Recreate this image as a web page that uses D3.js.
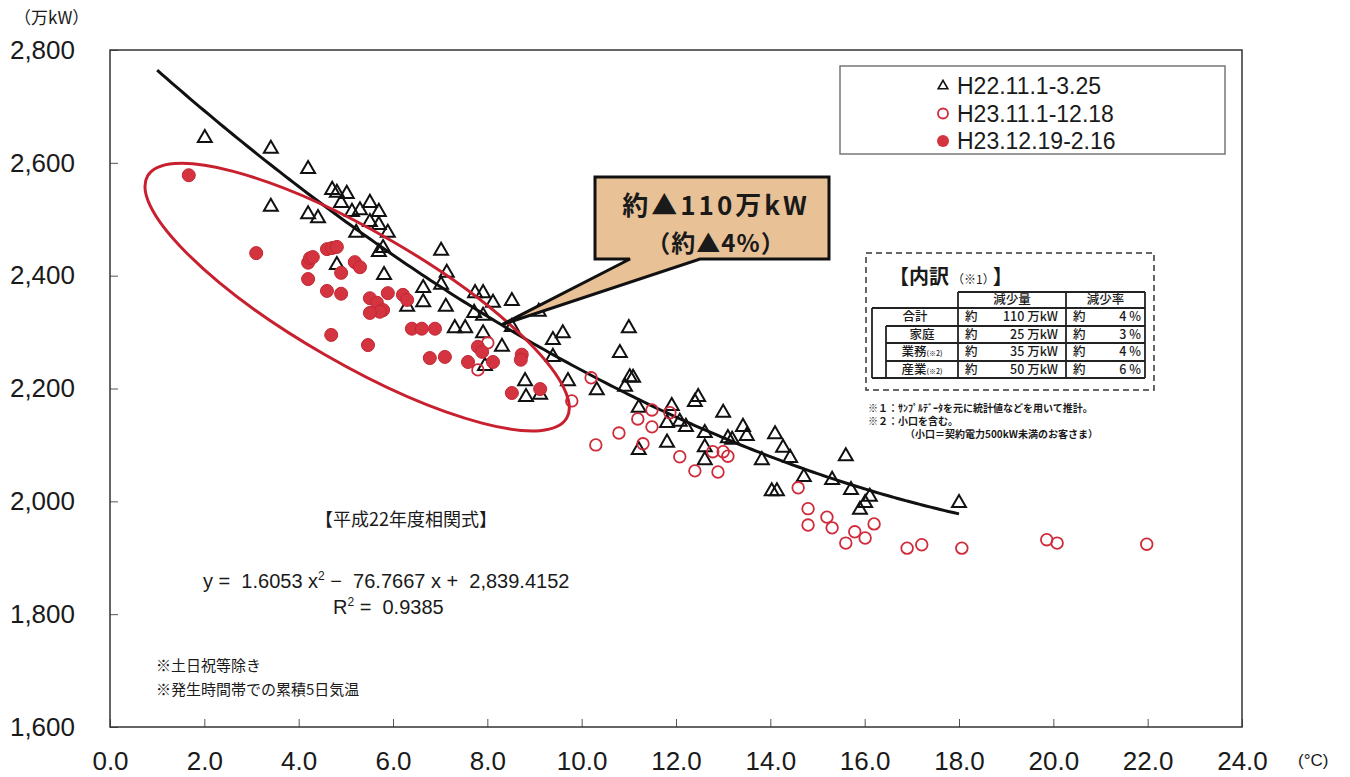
<!DOCTYPE html>
<html lang="ja">
  <head>
    <meta charset="utf-8" />
    <script src="https://d3js.org/d3.v7.min.js"></script>
    <style>
      body { margin: 0; background: #fff; }
      text { fill: #1a1a1a; }
    </style>
  </head>
  <body>
    <script type="text/javascript">

      // chart data (temperature in °C, demand in 万kW)
      var h22Temp = [2.01, 3.41, 3.41, 4.20, 4.20, 4.41, 4.71, 4.81, 5.02, 4.90,
                     5.13, 5.30, 5.51, 5.70, 5.51, 5.70, 5.22, 5.89, 5.79, 5.70,
                     4.81, 5.81, 6.30, 7.02, 7.14, 7.02, 6.64, 6.64, 7.12, 7.74,
                     7.91, 8.12, 8.52, 7.72, 7.91, 9.09, 7.31, 7.53, 7.91, 8.52,
                     8.31, 9.39, 9.60, 9.39, 7.95, 8.80, 9.71, 10.32, 8.82, 9.12,
                     11.00, 10.81, 11.02, 11.09, 10.92, 11.21, 11.21, 11.91, 11.81, 12.08,
                     12.21, 11.81, 12.47, 12.40, 12.61, 12.61, 12.61, 13.00, 13.10, 13.19,
                     13.42, 13.50, 13.82, 14.10, 14.27, 14.42, 14.03, 14.14, 14.71, 15.31,
                     15.60, 15.71, 16.11, 16.01, 15.90, 18.00];
      var h22Demand = [2644, 2625, 2522, 2589, 2509, 2502, 2552, 2547, 2545, 2529,
                       2513, 2516, 2529, 2513, 2495, 2490, 2476, 2476, 2449, 2442,
                       2419, 2401, 2345, 2444, 2405, 2384, 2378, 2353, 2345, 2369,
                       2369, 2352, 2355, 2334, 2329, 2336, 2307, 2307, 2298, 2309,
                       2274, 2286, 2298, 2256, 2240, 2213, 2213, 2197, 2185, 2189,
                       2307, 2263, 2220, 2219, 2203, 2166, 2091, 2169, 2139, 2141,
                       2132, 2104, 2185, 2176, 2121, 2096, 2073, 2157, 2112, 2109,
                       2132, 2116, 2073, 2119, 2095, 2077, 2018, 2018, 2043, 2038,
                       2080, 2020, 2008, 1997, 1985, 1997];

      var h23aTemp = [8.01, 7.80, 10.20, 9.79, 11.49, 11.19, 11.49, 11.87, 10.79, 11.30,
                      10.30, 12.08, 12.40, 12.89, 12.78, 13.00, 13.10, 14.59, 14.80, 14.80,
                      15.20, 15.31, 15.79, 15.60, 16.01, 16.20, 16.90, 17.21, 18.06, 19.86,
                      20.08, 21.98];
      var h23aDemand = [2281, 2233, 2219, 2178, 2162, 2146, 2132, 2157, 2121, 2102,
                        2100, 2079, 2054, 2052, 2088, 2088, 2080, 2024, 1987, 1958,
                        1972, 1953, 1946, 1926, 1935, 1960, 1917, 1923, 1917, 1932,
                        1926, 1924];

      var h23bTemp = [1.67, 3.10, 4.20, 4.24, 4.30, 4.20, 4.60, 4.71, 4.81, 4.90,
                      5.19, 5.30, 4.60, 4.90, 5.51, 5.66, 5.79, 5.72, 5.51, 5.89,
                      6.21, 6.30, 4.69, 5.47, 6.40, 6.61, 6.89, 6.78, 7.10, 7.59,
                      7.80, 7.89, 8.12, 8.73, 8.71, 8.52, 9.12];
      var h23bDemand = [2578, 2440, 2423, 2431, 2433, 2394, 2447, 2449, 2451, 2405,
                        2424, 2415, 2373, 2368, 2360, 2352, 2339, 2336, 2334, 2369,
                        2366, 2357, 2295, 2277, 2306, 2306, 2306, 2254, 2256, 2247,
                        2274, 2265, 2247, 2260, 2251, 2192, 2199];

      // regression coefficients (a x^2 + b x + c) and the range it is drawn on
      var fitCoef = [1.6053, -76.7667, 2839.4152];
      var fitRange = [1.0, 18.0];

      // ticks and labels
      var xTicks = [0, 2, 4, 6, 8, 10, 12, 14, 16, 18, 20, 22, 24];
      var yTicks = [1600, 1800, 2000, 2200, 2400, 2600, 2800];
      var legendLabels = ["H22.11.1-3.25", "H23.11.1-12.18", "H23.12.19-2.16"];
      var tableHeads = ["減少量", "減少率"];
      var tableNames = ["合計", "家庭", "業務", "産業"];
      var tableAmounts = [110, 25, 35, 50];
      var tableRates = [4, 3, 4, 6];

      // variables svg (plot box edges)
      var w = 1350;
      var h = 777;
      var plotLeft = 110;
      var plotRight = 1242;
      var plotTop = 50;
      var plotBottom = 727;
      var red = "#cf2b3a";

      var svg = d3.select("body")
                  .append("svg")
                  .attr("width", w)
                  .attr("height", h)
                  .style("font-family", "'Liberation Sans', Arial, sans-serif");

      var xScale = d3.scaleLinear().domain([0, 24]).range([plotLeft, plotRight]);
      var yScale = d3.scaleLinear().domain([1600, 2800]).range([plotBottom, plotTop]);

      // axes
      var xAxis = d3.axisBottom(xScale)
                    .tickValues(xTicks)
                    .tickSizeInner(-8)
                    .tickSizeOuter(0)
                    .tickPadding(25)
                    .tickFormat(d3.format(".1f"));
      var yAxis = d3.axisLeft(yScale)
                    .tickValues(yTicks)
                    .tickSizeInner(-8)
                    .tickSizeOuter(0)
                    .tickPadding(35)
                    .tickFormat(d3.format(","));

      var gx = svg.append("g")
                  .attr("transform", "translate(0," + plotBottom + ")")
                  .call(xAxis);
      var gy = svg.append("g")
                  .attr("transform", "translate(" + plotLeft + ",0)")
                  .call(yAxis);
      [gx, gy].forEach(function(g) {
        g.select(".domain").remove();
        g.selectAll(".tick line").attr("stroke", "#555");
        g.selectAll(".tick text")
         .style("font-size", "26px")
         .style("font-family", "'Liberation Sans', Arial, sans-serif")
         .attr("fill", "#1a1a1a");
      });

      // frame
      svg.append("rect")
         .attr("x", plotLeft)
         .attr("y", plotTop)
         .attr("width", plotRight - plotLeft)
         .attr("height", plotBottom - plotTop)
         .attr("fill", "none")
         .attr("stroke", "#333")
         .attr("stroke-width", 1.5);

      // units
      svg.append("text")
         .attr("x", 14)
         .attr("y", 24)
         .style("font-size", "17px")
         .style("font-family", "'Noto Sans CJK JP', sans-serif")
         .text("（万kW）");
      svg.append("text")
         .attr("x", 1298)
         .attr("y", 766)
         .style("font-size", "17px")
         .text("(°C)");

      // regression curve
      var fitX = d3.range(fitRange[0], fitRange[1] + 0.001, 0.1);
      function fit(t) {
        return fitCoef[0] * t * t + fitCoef[1] * t + fitCoef[2];
      }
      var line = d3.line()
                   .x(function(d) { return xScale(d); })
                   .y(function(d) { return yScale(fit(d)); })
                   .curve(d3.curveMonotoneX);
      svg.append("path")
         .datum(fitX)
         .attr("d", line)
         .attr("fill", "none")
         .attr("stroke", "#111")
         .attr("stroke-width", 3);

      // H22 triangles
      var triangle = d3.symbol().type(d3.symbolTriangle).size(84);
      svg.selectAll(".h22")
         .data(h22Temp)
         .enter()
         .append("path")
         .attr("class", "h22")
         .attr("d", triangle)
         .attr("transform", function(d, i) {
           return "translate(" + xScale(d) + "," + yScale(h22Demand[i]) + ")";
         })
         .attr("fill", "none")
         .attr("stroke", "#111")
         .attr("stroke-width", 2);

      // H23 open circles
      svg.selectAll(".h23a")
         .data(h23aTemp)
         .enter()
         .append("circle")
         .attr("class", "h23a")
         .attr("cx", function(d) { return xScale(d); })
         .attr("cy", function(d, i) { return yScale(h23aDemand[i]); })
         .attr("r", 5.8)
         .attr("fill", "none")
         .attr("stroke", red)
         .attr("stroke-width", 1.8);

      // H23 filled circles
      svg.selectAll(".h23b")
         .data(h23bTemp)
         .enter()
         .append("circle")
         .attr("class", "h23b")
         .attr("cx", function(d) { return xScale(d); })
         .attr("cy", function(d, i) { return yScale(h23bDemand[i]); })
         .attr("r", 6.5)
         .attr("fill", "#d3343f")
         .attr("stroke", "#c22633")
         .attr("stroke-width", 1);

      // red ellipse round the cold-day cluster
      svg.append("ellipse")
         .attr("transform", "translate(" + xScale(5.24) + "," + yScale(2362) + ") rotate(30)")
         .attr("rx", 242)
         .attr("ry", 66)
         .attr("fill", "none")
         .attr("stroke", "#c8202e")
         .attr("stroke-width", 3);

      // callout
      var tipX = xScale(8.3);
      var tipY = yScale(fit(8.3));
      svg.append("path")
         .attr("d", "M595,177H829V259H700L" + tipX + "," + tipY + "L630,259H595Z")
         .attr("fill", "#e8c296")
         .attr("stroke", "#111")
         .attr("stroke-width", 3)
         .attr("stroke-linejoin", "miter");
      svg.append("text")
         .attr("x", 716)
         .attr("y", 215)
         .attr("text-anchor", "middle")
         .style("font-size", "26px")
         .style("font-weight", "bold")
         .style("letter-spacing", "3px")
         .style("font-family", "'Noto Sans CJK JP', sans-serif")
         .text("約▲110万kW");
      svg.append("text")
         .attr("x", 716)
         .attr("y", 252)
         .attr("text-anchor", "middle")
         .style("font-size", "24px")
         .style("font-weight", "bold")
         .style("letter-spacing", "1px")
         .style("font-family", "'Noto Sans CJK JP', sans-serif")
         .text("（約▲4%）");

      // legend
      svg.append("rect")
         .attr("x", 840)
         .attr("y", 66)
         .attr("width", 385)
         .attr("height", 88)
         .attr("fill", "#fff")
         .attr("stroke", "#777")
         .attr("stroke-width", 1.5);
      var legendSymbols = [
        function(g) {
          g.append("path").attr("d", d3.symbol().type(d3.symbolTriangle).size(40))
           .attr("fill", "none").attr("stroke", "#111").attr("stroke-width", 1.6);
        },
        function(g) {
          g.append("circle").attr("r", 5).attr("fill", "none")
           .attr("stroke", red).attr("stroke-width", 1.8);
        },
        function(g) {
          g.append("circle").attr("r", 6).attr("fill", "#d3343f");
        }
      ];
      legendLabels.forEach(function(label, i) {
        var row = svg.append("g")
                     .attr("transform", "translate(943," + (86 + i * 27.5) + ")");
        legendSymbols[i](row);
        row.append("text")
           .attr("x", 14)
           .attr("y", 8)
           .style("font-size", "23px")
           .text(label);
      });

      // breakdown table
      var tb = svg.append("g")
                  .style("font-family", "'Noto Sans CJK JP', sans-serif");
      tb.append("rect")
        .attr("x", 866)
        .attr("y", 253)
        .attr("width", 288)
        .attr("height", 137)
        .attr("fill", "none")
        .attr("stroke", "#333")
        .attr("stroke-width", 1.5)
        .attr("stroke-dasharray", "6,4");
      var title = tb.append("text")
                    .attr("x", 889)
                    .attr("y", 284)
                    .style("font-size", "20px")
                    .style("font-weight", "bold");
      title.append("tspan").text("【内訳");
      title.append("tspan").attr("dx", 3).style("font-size", "12px").style("font-weight", "normal").text("（※1）");
      title.append("tspan").attr("dx", 4).text("】");

      var colL = 872, colIn = 886, col1 = 958, col2 = 1066, colR = 1145;
      var rowY = [292, 308, 326, 343, 361, 378];
      function hline(x1, x2, yy) {
        tb.append("line").attr("x1", x1).attr("x2", x2).attr("y1", yy).attr("y2", yy)
          .attr("stroke", "#222").attr("stroke-width", 1.8);
      }
      function vline(xx, y1, y2) {
        tb.append("line").attr("x1", xx).attr("x2", xx).attr("y1", y1).attr("y2", y2)
          .attr("stroke", "#222").attr("stroke-width", 1.8);
      }
      hline(col1, colR, rowY[0]);
      hline(colL, colR, rowY[1]);
      hline(colIn, colR, rowY[2]);
      hline(colIn, colR, rowY[3]);
      hline(colIn, colR, rowY[4]);
      hline(colL, colR, rowY[5]);
      vline(colL, rowY[1], rowY[5]);
      vline(colIn, rowY[2], rowY[5]);
      vline(col1, rowY[0], rowY[5]);
      vline(col2, rowY[0], rowY[5]);
      vline(colR, rowY[0], rowY[5]);

      tableHeads.forEach(function(t, i) {
        tb.append("text")
          .attr("x", i == 0 ? (col1 + col2) / 2 : (col2 + colR) / 2)
          .attr("y", rowY[0] + 12)
          .attr("text-anchor", "middle")
          .style("font-size", "12.5px")
          .style("font-weight", "500")
          .text(t);
      });
      tableNames.forEach(function(name, i) {
        var yy = rowY[i + 1] + 13;
        var cx = i == 0 ? (colL + col1) / 2 : (colIn + col1) / 2;
        var label = tb.append("text")
                      .attr("x", cx)
                      .attr("y", yy)
                      .attr("text-anchor", "middle")
                      .style("font-size", "12.5px")
                      .style("font-weight", "500");
        label.append("tspan").text(name);
        if (i >= 2) {
          label.append("tspan").style("font-size", "7px").text("(※2)");
        }
        tb.append("text").attr("x", col1 + 7).attr("y", yy)
          .style("font-size", "12.5px").style("font-weight", "500").text("約");
        tb.append("text").attr("x", col2 - 8).attr("y", yy)
          .attr("text-anchor", "end")
          .style("font-size", "12.5px")
          .style("font-weight", "500")
          .text(tableAmounts[i] + "  万kW");
        tb.append("text").attr("x", col2 + 7).attr("y", yy)
          .style("font-size", "12.5px").style("font-weight", "500").text("約");
        tb.append("text").attr("x", colR - 4).attr("y", yy)
          .attr("text-anchor", "end")
          .style("font-size", "12.5px")
          .style("font-weight", "500")
          .text(tableRates[i] + " %");
      });

      // table footnotes
      var notes = [["※１：ｻﾝﾌﾟﾙﾃﾞｰﾀを元に統計値などを用いて推計。", 868, 412],
                   ["※２：小口を含む。", 868, 425],
                   ["（小口＝契約電力500kW未満のお客さま）", 905, 438]];
      notes.forEach(function(n) {
        tb.append("text")
          .attr("x", n[1])
          .attr("y", n[2])
          .style("font-size", "10px")
          .style("font-weight", "bold")
          .text(n[0]);
      });

      // regression formula
      svg.append("text")
         .attr("x", 315)
         .attr("y", 526)
         .style("font-size", "18px")
         .style("font-family", "'Noto Sans CJK JP', sans-serif")
         .text("【平成22年度相関式】");
      var eq = svg.append("text")
                  .attr("x", 203)
                  .attr("y", 588)
                  .style("font-size", "20px")
                  .attr("xml:space", "preserve");
      eq.append("tspan").text("y =  1.6053 x");
      eq.append("tspan").attr("dy", -8).style("font-size", "12px").text("2");
      eq.append("tspan").attr("dy", 8).text(" −  76.7667 x +  2,839.4152");
      var r2 = svg.append("text")
                  .attr("x", 333)
                  .attr("y", 614)
                  .style("font-size", "20px")
                  .attr("xml:space", "preserve");
      r2.append("tspan").text("R");
      r2.append("tspan").attr("dy", -8).style("font-size", "12px").text("2");
      r2.append("tspan").attr("dy", 8).text(" =  0.9385");

      // chart notes
      svg.append("text")
         .attr("x", 156)
         .attr("y", 671)
         .style("font-size", "15px")
         .style("font-family", "'Noto Sans CJK JP', sans-serif")
         .text("※土日祝等除き");
      svg.append("text")
         .attr("x", 156)
         .attr("y", 695)
         .style("font-size", "15px")
         .style("font-family", "'Noto Sans CJK JP', sans-serif")
         .text("※発生時間帯での累積5日気温");

    </script>
  </body>
</html>
